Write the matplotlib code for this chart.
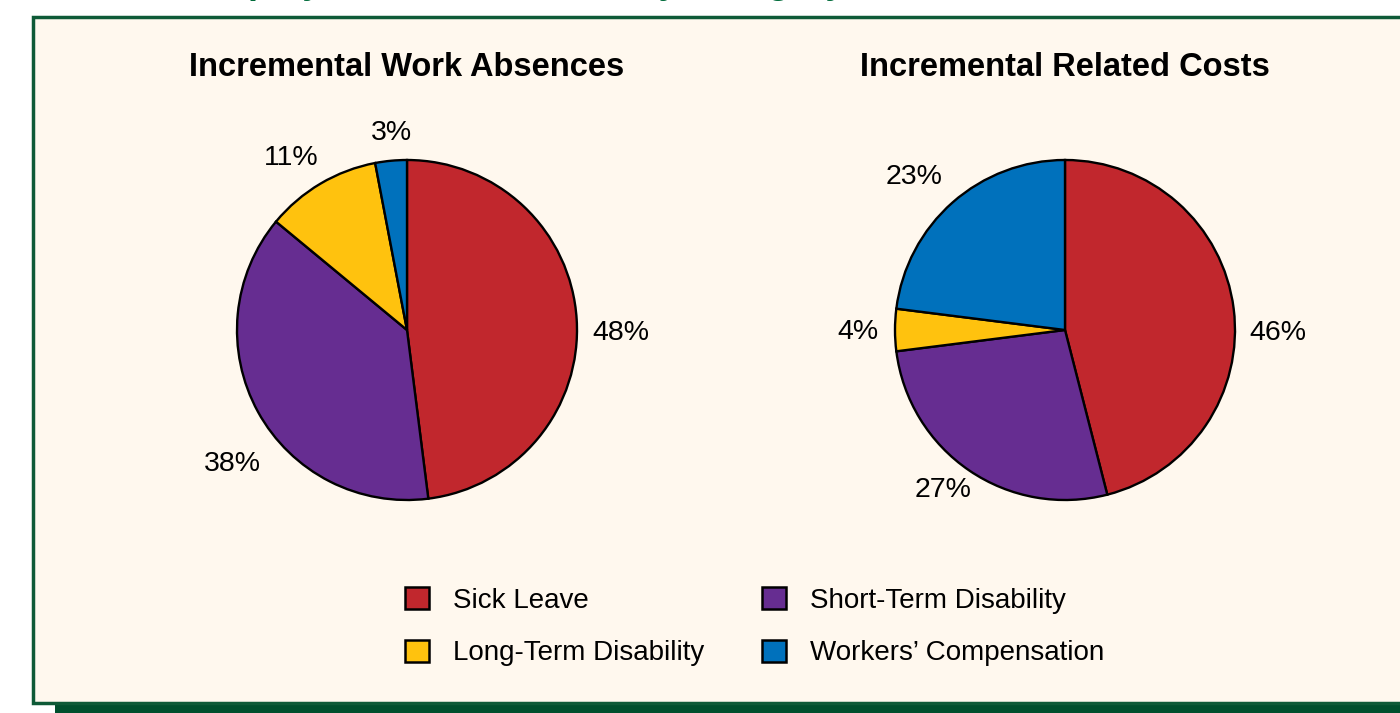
import matplotlib
matplotlib.use('Agg')
import matplotlib.pyplot as plt
from matplotlib.patches import Rectangle, Patch

# Lets keep the data up here
categories = ['Sick Leave', 'Short-Term Disability', 'Long-Term Disability', "Workers\u2019 Compensation"]
colors = ['#C1272D', '#662D91', '#FFC20E', '#0071BC']
absences = [48, 38, 11, 3]
costs = [46, 27, 4, 23]
titles = ['Incremental Work Absences', 'Incremental Related Costs']

# label spots in pie-radius units (style, not data)
absence_label_pos = [(1.26, -0.02), (-1.03, -0.79), (-0.68, 1.01), (-0.09, 1.16)]
cost_label_pos = [(1.25, -0.02), (-0.72, -0.94), (-1.22, -0.01), (-0.89, 0.90)]

plt.rcParams['font.family'] = ['Liberation Sans', 'DejaVu Sans']

W, H = 1400, 713
fig = plt.figure(figsize=(W / 100, H / 100), dpi=100)
fig.patch.set_facecolor('white')

# --- background box with green border + shadow bar ---
fig.patches.append(Rectangle((55 / W, 0), 1, 8 / H, transform=fig.transFigure,
                             facecolor='#004F2D', edgecolor='none', zorder=0))
fig.patches.append(Rectangle((33 / W, (H - 703) / H), 1.0, (703 - 17) / H, transform=fig.transFigure,
                             facecolor='#FFF8EE', edgecolor='#0E5A37', linewidth=2.5, zorder=1))

# heading above the box (cut off at the top, as in the original)
fig.text(195 / W, 1 + 7 / H, 'Employer Absence Costs by Category', color='#006B3A',
         fontsize=26, fontweight='bold', fontstyle='italic', va='baseline', ha='left')


def draw_pie(cx, cy, values, label_pos, title):
    k = 1.5
    r = 170
    ax = fig.add_axes([(cx - r * k) / W, (H - cy - r * k) / H, 2 * r * k / W, 2 * r * k / H])
    ax.set_zorder(2)
    ax.pie(values, colors=colors, startangle=90, counterclock=False,
           wedgeprops=dict(edgecolor='black', linewidth=1.7))
    for v, (lx, ly) in zip(values, label_pos):
        ax.text(lx, ly, f'{v}%', ha='center', va='center', fontsize=20.5)
    ax.set_xlim(-k, k)
    ax.set_ylim(-k, k)
    ax.axis('off')
    fig.text(cx / W, (H - 68) / H, title, ha='center', va='center', fontsize=23.5,
             fontweight='bold')


draw_pie(407, 330, absences, absence_label_pos, titles[0])
draw_pie(1065, 330, costs, cost_label_pos, titles[1])

# --- legend, column-major order ---
handles = [Patch(facecolor=c, edgecolor='black', linewidth=1.8) for c in colors]
order = [0, 2, 1, 3]
leg = fig.legend([handles[i] for i in order], [categories[i] for i in order],
                 ncol=2, loc='upper left', bbox_to_anchor=(405 / W, (H - 587) / H),
                 frameon=False, fontsize=20, handlelength=0.86, handleheight=0.86,
                 handletextpad=0.86, columnspacing=2.1, labelspacing=0.93,
                 borderpad=0, borderaxespad=0)
leg.set_zorder(3)

fig.savefig('out.png', dpi=100)
